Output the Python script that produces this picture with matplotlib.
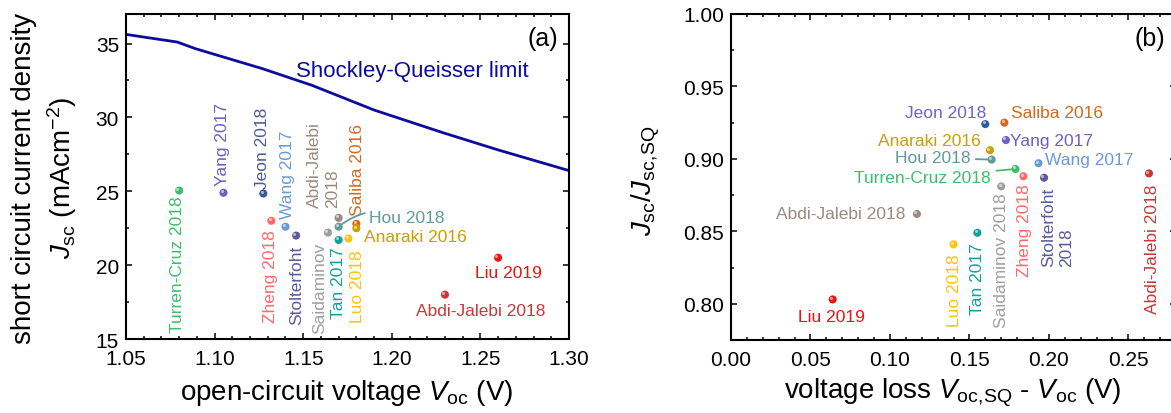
import matplotlib
matplotlib.use("Agg")
import matplotlib.pyplot as plt
from matplotlib.ticker import MultipleLocator, FormatStrFormatter
import matplotlib.transforms as mtransforms

plt.rcParams['font.family'] = ['Liberation Sans', 'DejaVu Sans']
plt.rcParams['mathtext.fontset'] = 'custom'
plt.rcParams['mathtext.rm'] = 'Liberation Sans'
plt.rcParams['mathtext.it'] = 'Liberation Sans:italic'
plt.rcParams['mathtext.bf'] = 'Liberation Sans:bold'

#---------------- data, panel (a)
sq_voc = [1.05, 1.065, 1.079, 1.089, 1.127, 1.155, 1.19, 1.229, 1.26, 1.30]
sq_jsc = [35.62, 35.35, 35.1, 34.66, 33.3, 32.17, 30.5, 28.96, 27.8, 26.4]

names = ["Turren-Cruz 2018", "Yang 2017", "Jeon 2018", "Zheng 2018", "Wang 2017",
         "Stolterfoht 2018", "Saidaminov 2018", "Abdi-Jalebi 2018 (a)", "Hou 2018",
         "Tan 2017", "Luo 2018", "Saliba 2016", "Anaraki 2016", "Liu 2019",
         "Abdi-Jalebi 2018 (b)"]
voc = [1.080, 1.105, 1.1275, 1.132, 1.140, 1.146, 1.164, 1.170, 1.170,
       1.170, 1.1755, 1.180, 1.180, 1.260, 1.230]
jsc = [25.05, 24.9, 24.85, 23.0, 22.6, 22.0, 22.2, 23.2, 22.6,
       21.7, 21.8, 22.8, 22.5, 20.5, 18.0]

#---------------- data, panel (b)
v_loss = [0.179, 0.173, 0.160, 0.184, 0.1935, 0.197, 0.170, 0.263, 0.164,
          0.155, 0.140, 0.172, 0.163, 0.064, 0.117]
j_ratio = [0.893, 0.913, 0.924, 0.888, 0.897, 0.887, 0.881, 0.890, 0.8995,
           0.849, 0.841, 0.925, 0.906, 0.803, 0.862]

# the two Abdi-Jalebi points swap colours between the panels
colors_a = ["#3dbf6a", "#6b5fc4", "#2e5f9a", "#ff6a6a", "#6a9ad6",
            "#5c5a9c", "#9e9e9e", "#9a8a80", "#5f9b9c",
            "#10a0a0", "#ffc20e", "#d2691e", "#c8a000", "#ee1111",
            "#c83838"]
colors_b = ["#3dbf6a", "#6b5fc4", "#2e5f9a", "#ff6a6a", "#6a9ad6",
            "#5c5a9c", "#9e9e9e", "#c83838", "#5f9b9c",
            "#10a0a0", "#ffc20e", "#d2691e", "#c8a000", "#ee1111",
            "#9a8a80"]

#---------------- label layout: (text, x, y, rotation, ha, va, color)
labels_a = [
    ("Turren-Cruz 2018", 1.0793, 15.47, 90, "center", "bottom", "#3dbf6a"),
    ("Yang 2017", 1.1047, 25.44, 90, "center", "bottom", "#6b5fc4"),
    ("Jeon 2018", 1.1273, 25.24, 90, "center", "bottom", "#4d5a96"),
    ("Wang 2017", 1.1409, 23.2, 90, "center", "bottom", "#6a9ad6"),
    ("Zheng 2018", 1.1318, 22.4, 90, "center", "top", "#ff6a6a"),
    ("Stolterfoht", 1.1465, 21.4, 90, "center", "top", "#5c5a9c"),
    ("Saidaminov", 1.1595, 21.6, 90, "center", "top", "#9e9e9e"),
    ("Tan 2017", 1.1702, 21.28, 90, "center", "top", "#10a0a0"),
    ("Luo 2018", 1.1804, 21.1, 90, "center", "top", "#ffc20e"),
    ("Abdi-Jalebi\n2018", 1.1617, 23.96, 90, "center", "bottom", "#9a8a80"),
    ("Saliba 2016", 1.1804, 23.42, 90, "center", "bottom", "#d2691e"),
    ("Anaraki 2016", 1.1843, 21.94, 0, "left", "center", "#c8a000"),
    ("Liu 2019", 1.2658, 19.51, 0, "center", "center", "#ee1111"),
    ("Abdi-Jalebi 2018", 1.2503, 16.95, 0, "center", "center", "#c83838"),
]
labels_b = [
    ("Jeon 2018", 0.1606, 0.9322, 0, "right", "center", "#6a66c8"),
    ("Saliba 2016", 0.1761, 0.9322, 0, "left", "center", "#d2691e"),
    ("Yang 2017", 0.1757, 0.9126, 0, "left", "center", "#6b5fc4"),
    ("Wang 2017", 0.1977, 0.8995, 0, "left", "center", "#6a9ad6"),
    ("Abdi-Jalebi 2018", 0.1096, 0.8621, 0, "right", "center", "#9a8a80"),
    ("Liu 2019", 0.0634, 0.7915, 0, "center", "center", "#ee1111"),
    ("Saidaminov 2018", 0.1700, 0.877, 90, "center", "top", "#9e9e9e"),
    ("Zheng 2018", 0.1845, 0.8832, 90, "center", "top", "#ff6a6a"),
    ("Stolterfoht\n2018", 0.2056, 0.8805, 90, "center", "top", "#5c5a9c"),
    ("Tan 2017", 0.1554, 0.8425, 90, "center", "top", "#10a0a0"),
    ("Luo 2018", 0.1406, 0.8345, 90, "center", "top", "#ffc20e"),
    ("Abdi-Jalebi 2018", 0.2649, 0.8832, 90, "center", "top", "#c83838"),
]
# labels joined to their point by a short line: (text, point index, x, y, color)
leaders_b = [
    ("Anaraki 2016", 12, 0.1574, 0.9126, "#c8a000"),
    ("Hou 2018", 8, 0.1505, 0.9007, "#5f9b9c"),
    ("Turren-Cruz 2018", 0, 0.1635, 0.8874, "#3dbf6a"),
]

W, H = 1171, 414
fig = plt.figure(figsize=(W / 100, H / 100), dpi=100)
ax1 = fig.add_axes([126 / W, 74 / H, 443 / W, 325 / H])
ax2 = fig.add_axes([731 / W, 73 / H, 445 / W, 326 / H])

LBL = 12.5


def balls(ax, x, y, c):
    ax.scatter(x, y, s=34, c=c, zorder=3, linewidths=0)
    off = mtransforms.ScaledTranslation(-1.2 / 72, 1.2 / 72, fig.dpi_scale_trans)
    ax.scatter(x, y, s=5, c="white", alpha=0.55, zorder=4, linewidths=0,
               transform=ax.transData + off)


def style(ax):
    ax.tick_params(which="both", direction="in", top=True, right=True,
                   width=1.1, labelsize=15, pad=5)
    ax.tick_params(axis="x", which="both", pad=7)
    ax.tick_params(which="major", length=4.5)
    ax.tick_params(which="minor", length=2.2)
    for s in ax.spines.values():
        s.set_linewidth(1.5)


#---------------- panel (a)
ax1.plot(sq_voc, sq_jsc, color="#0b0b9e", lw=2, zorder=2)
balls(ax1, voc, jsc, colors_a)
ax1.set_xlim(1.05, 1.30)
ax1.set_ylim(15, 37)
ax1.xaxis.set_major_locator(MultipleLocator(0.05))
ax1.xaxis.set_minor_locator(MultipleLocator(0.01))
ax1.yaxis.set_major_locator(MultipleLocator(5))
ax1.yaxis.set_minor_locator(MultipleLocator(2.5))
ax1.xaxis.set_major_formatter(FormatStrFormatter("%.2f"))
style(ax1)

for t, x, y, r, ha, va, c in labels_a:
    ax1.text(x, y, t, rotation=r, ha=ha, va=va, color=c, fontsize=LBL,
             multialignment="left", linespacing=1.25)
ax1.annotate("Hou 2018", xy=(voc[8], jsc[8]), xytext=(1.1871, 23.22),
             ha="left", va="center", color="#5f9b9c", fontsize=LBL,
             arrowprops=dict(arrowstyle="-", color="#5f9b9c", lw=1.3,
                             shrinkA=1, shrinkB=3,
                             connectionstyle="arc3,rad=0.3"))
ax1.text(1.2117, 33.18, "Shockley-Queisser limit", color="#0b0b9e",
         fontsize=16, ha="center", va="center")
ax1.text(0.976, 0.925, "(a)", transform=ax1.transAxes, fontsize=18,
         ha="right", va="center")

#---------------- panel (b)
balls(ax2, v_loss, j_ratio, colors_b)
ax2.set_xlim(0, 0.28)
ax2.set_ylim(0.775, 1.0)
ax2.xaxis.set_major_locator(MultipleLocator(0.05))
ax2.xaxis.set_minor_locator(MultipleLocator(0.01))
ax2.yaxis.set_major_locator(MultipleLocator(0.05))
ax2.yaxis.set_minor_locator(MultipleLocator(0.025))
ax2.xaxis.set_major_formatter(FormatStrFormatter("%.2f"))
ax2.yaxis.set_major_formatter(FormatStrFormatter("%.2f"))
style(ax2)

for t, x, y, r, ha, va, c in labels_b:
    ax2.text(x, y, t, rotation=r, ha=ha, va=va, color=c, fontsize=LBL,
             multialignment="left", linespacing=1.25)
for t, i, x, y, c in leaders_b:
    ax2.annotate(t, xy=(v_loss[i], j_ratio[i]), xytext=(x, y),
                 ha="right", va="center", color=c, fontsize=LBL,
                 arrowprops=dict(arrowstyle="-", color=c, lw=1.3,
                                 shrinkA=2, shrinkB=3))
ax2.text(0.976, 0.925, "(b)", transform=ax2.transAxes, fontsize=18,
         ha="right", va="center")

#---------------- axis titles
fig.text(24 / W, 1 - 178 / H, "short circuit current density", rotation=90,
         fontsize=20, ha="center", va="center")
fig.text(62 / W, 1 - 178 / H, r"$J_{\mathrm{sc}}$ (mAcm$^{-2}$)", rotation=90,
         fontsize=20, ha="center", va="center")
fig.text(347 / W, 1 - 393 / H, r"open-circuit voltage $V_{\mathrm{oc}}$ (V)",
         fontsize=20, ha="center", va="center")
fig.text(646 / W, 1 - 181 / H, r"$J_{\mathrm{sc}}/J_{\mathrm{sc},\!\mathrm{SQ}}$",
         rotation=90, fontsize=20, ha="center", va="center")
fig.text(953 / W, 1 - 393 / H,
         r"voltage loss $V_{\mathrm{oc},\!\mathrm{SQ}}$ - $V_{\mathrm{oc}}$ (V)",
         fontsize=20, ha="center", va="center")

fig.savefig("out.png", dpi=100)
